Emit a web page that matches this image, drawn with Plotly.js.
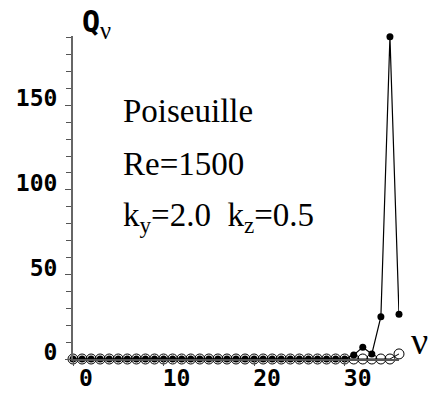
<!DOCTYPE html>
<html>
<head>
<meta charset="utf-8">
<script src="https://cdn.plot.ly/plotly-3.0.1.min.js"></script>
<style>html,body{margin:0;padding:0;background:#fff;}#chart{width:430px;height:401px;}</style>
</head>
<body>
<div id="chart"></div>
<script>
// Mode index (nu)
const nuValues = [0,1,2,3,4,5,6,7,8,9,10,11,12,13,14,15,16,17,18,19,20,21,22,23,24,25,26,27,28,29,30,31,32,33,34,35,36];
// Filled-dot series
const qFilled = [0,0,0,0,0,0,0,0,0,0,0,0,0,0,0,0,0,0,0,0,0,0,0,0,0,0,0,0,0,0,0,2.4,7,3,25,190.5,26.5];
// Open-circle series
const qOpen = [0,0,0,0,0,0,0,0,0,0,0,0,0,0,0,0,0,0,0,0,0,0,0,0,0,0,0,0,0,0,0,0,0,0,0,0,3];
const xTicks = [0,10,20,30];
const yTicks = [0,50,100,150];

const traces = [
  {x: nuValues, y: qOpen, type:'scatter', mode:'lines+markers', cliponaxis:false,
   line:{color:'#000', width:1}, marker:{symbol:'circle-open', size:10, color:'#000', line:{width:1, color:'#000'}}},
  {x: nuValues, y: qFilled, type:'scatter', mode:'lines+markers', cliponaxis:false,
   line:{color:'#000', width:1.2}, marker:{symbol:'circle', size:7, color:'#000'}}
];

const tickFont = {family:'DejaVu Sans Mono', size:23, weight:'bold', color:'#000'};
const layout = {
  width:430, height:401,
  margin:{l:73, r:31, t:36, b:42},
  paper_bgcolor:'#fff', plot_bgcolor:'#fff',
  showlegend:false,
  xaxis:{range:[0,36], showgrid:false, zeroline:false, showline:true, linecolor:'#555', linewidth:1.5,
    tickmode:'array', tickvals:xTicks, ticktext:xTicks.map(String), ticks:'outside', ticklen:5, tickcolor:'#555',
    tickfont:tickFont, ticklabelshift:13, ticklabelstandoff:-7},
  yaxis:{range:[0,191], showgrid:false, zeroline:false, showline:true, linecolor:'#666', linewidth:2,
    tickmode:'array', tickvals:yTicks, ticktext:yTicks.map(String), ticks:'outside', ticklen:6, tickcolor:'#555',
    minor:{dtick:10, tick0:0, ticks:'outside', ticklen:5, tickcolor:'#555'},
    tickfont:tickFont, ticklabelshift:-7, ticklabelstandoff:3},
  annotations:[
    {xref:'paper', yref:'paper', x:(121-73)/326, y:(359-111)/323, xanchor:'left', yanchor:'middle', showarrow:false,
     text:'Poiseuille', font:{family:'Liberation Serif', size:33, color:'#000'}},
    {xref:'paper', yref:'paper', x:(121-73)/326, y:(359-164)/323, xanchor:'left', yanchor:'middle', showarrow:false,
     text:'Re=1500', font:{family:'Liberation Serif', size:33, color:'#000'}},
    {xref:'paper', yref:'paper', x:(121-73)/326, y:(359-217)/323, xanchor:'left', yanchor:'middle', showarrow:false,
     text:'k<sub>y</sub>=2.0  k<sub>z</sub>=0.5', font:{family:'Liberation Serif', size:33, color:'#000'}},
    {xref:'paper', yref:'paper', x:(80-73)/326, y:(359-24)/323, xanchor:'left', yanchor:'middle', showarrow:false,
     text:'<span style="font-family:DejaVu Sans Mono;font-weight:bold;font-size:30px">Q</span><sub>ν</sub>', font:{family:'Liberation Serif', size:35, color:'#000'}},
    {xref:'paper', yref:'paper', x:(419-73)/326, y:(359-341)/323, xanchor:'center', yanchor:'middle', showarrow:false,
     text:'ν', font:{family:'Liberation Serif', size:38, color:'#000'}}
  ]
};
Plotly.newPlot('chart', traces, layout, {staticPlot:true, displayModeBar:false});
</script>
</body>
</html>
